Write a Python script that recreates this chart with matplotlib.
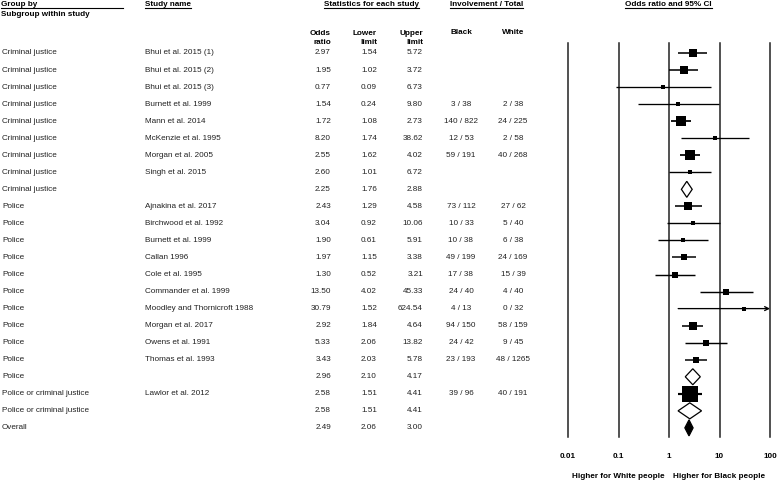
import matplotlib
matplotlib.use("Agg")
import matplotlib.pyplot as plt
from matplotlib.patches import Polygon
import numpy as np

# ---- data ----
groups = ["Criminal justice"] * 9 + ["Police"] * 11 + \
         ["Police or criminal justice"] * 2 + ["Overall"]
studies = ["Bhui et al. 2015 (1)", "Bhui et al. 2015 (2)", "Bhui et al. 2015 (3)",
           "Burnett et al. 1999", "Mann et al. 2014", "McKenzie et al. 1995",
           "Morgan et al. 2005", "Singh et al. 2015", "",
           "Ajnakina et al. 2017", "Birchwood et al. 1992", "Burnett et al. 1999",
           "Callan 1996", "Cole et al. 1995", "Commander et al. 1999",
           "Moodley and Thornicroft 1988", "Morgan et al. 2017", "Owens et al. 1991",
           "Thomas et al. 1993", "",
           "Lawlor et al. 2012", "", ""]
odds = [2.97, 1.95, 0.77, 1.54, 1.72, 8.20, 2.55, 2.60, 2.25,
        2.43, 3.04, 1.90, 1.97, 1.30, 13.50, 30.79, 2.92, 5.33, 3.43, 2.96,
        2.58, 2.58, 2.49]
lower = [1.54, 1.02, 0.09, 0.24, 1.08, 1.74, 1.62, 1.01, 1.76,
         1.29, 0.92, 0.61, 1.15, 0.52, 4.02, 1.52, 1.84, 2.06, 2.03, 2.10,
         1.51, 1.51, 2.06]
upper = [5.72, 3.72, 6.73, 9.80, 2.73, 38.62, 4.02, 6.72, 2.88,
         4.58, 10.06, 5.91, 3.38, 3.21, 45.33, 624.54, 4.64, 13.82, 5.78, 4.17,
         4.41, 4.41, 3.00]
black = ["", "", "", "3 / 38", "140 / 822", "12 / 53", "59 / 191", "", "",
         "73 / 112", "10 / 33", "10 / 38", "49 / 199", "17 / 38", "24 / 40",
         "4 / 13", "94 / 150", "24 / 42", "23 / 193", "",
         "39 / 96", "", ""]
white = ["", "", "", "2 / 38", "24 / 225", "2 / 58", "40 / 268", "", "",
         "27 / 62", "5 / 40", "6 / 38", "24 / 169", "15 / 39", "4 / 40",
         "0 / 32", "58 / 159", "9 / 45", "48 / 1265", "",
         "40 / 191", "", ""]
# relative weight (box area) per row, 0 for summary rows
weight = [4.9, 4.9, 0.9, 0.9, 10.0, 0.9, 9.0, 1.6, 0,
          4.9, 1.6, 1.6, 3.6, 2.5, 2.5, 0.9, 4.9, 2.5, 3.6, 0,
          25.6, 0, 0]
ticks = [0.01, 0.1, 1, 10, 100]
tick_labels = ["0.01", "0.1", "1", "10", "100"]

W, H = 778, 484
FS = 5.9
plt.rcParams["font.family"] = ["Liberation Sans", "DejaVu Sans"]

fig = plt.figure(figsize=(W / 100, H / 100), dpi=100)
ax = fig.add_axes([0, 0, 1, 1])
ax.set_xlim(0, W)
ax.set_ylim(H, 0)
ax.axis("off")

row0, dy = 53, 17.04

# headers (underlined)
def head(x, y, s, ha="left", line_to=None):
    t = ax.text(x, y, s, ha=ha, va="center", fontsize=FS, fontweight="bold")
    fig.canvas.draw()
    bb = t.get_window_extent().transformed(ax.transData.inverted())
    x0, x1 = bb.x0, bb.x1
    if line_to is not None:
        x1 = line_to
    ax.plot([x0, x1], [y + 4.2, y + 4.2], color="black", lw=0.8)

head(1, 4, "Group by", line_to=123)
ax.text(1, 14, "Subgroup within study", ha="left", va="center",
        fontsize=FS, fontweight="bold")
head(145, 4, "Study name")
head(371.5, 4, "Statistics for each study", ha="center")
head(486.5, 4, "Involvement / Total", ha="center")
head(668.5, 4, "Odds ratio and 95% CI", ha="center")

for x, s in [(331, "Odds\nratio"), (377, "Lower\nlimit"), (423, "Upper\nlimit")]:
    ax.text(x, 38, s, ha="right", va="center", fontsize=FS,
            fontweight="bold", linespacing=1.45)
ax.text(461, 33, "Black", ha="center", va="center", fontsize=FS, fontweight="bold")
ax.text(513, 33, "White", ha="center", va="center", fontsize=FS, fontweight="bold")

# table rows
for i in range(len(groups)):
    y = row0 + i * dy
    ax.text(2, y, groups[i], va="center", fontsize=FS, color="#222222")
    ax.text(145, y, studies[i], va="center", fontsize=FS, color="#222222")
    ax.text(331, y, "%.2f" % odds[i], ha="right", va="center", fontsize=FS, color="#222222")
    ax.text(377, y, "%.2f" % lower[i], ha="right", va="center", fontsize=FS, color="#222222")
    ax.text(423, y, "%.2f" % upper[i], ha="right", va="center", fontsize=FS, color="#222222")
    ax.text(461, y, black[i], ha="center", va="center", fontsize=FS, color="#222222")
    ax.text(513, y, white[i], ha="center", va="center", fontsize=FS, color="#222222")

# forest panel
x_left, x_right = 568, 770
y_top, y_bot = 43, 437
fx = fig.add_axes([x_left / W, 1 - y_bot / H, (x_right - x_left) / W, (y_bot - y_top) / H])
fx.set_xscale("log")
fx.set_xlim(0.01, 100)
fx.set_ylim((y_bot - row0) / dy, (y_top - row0) / dy)
fx.axis("off")
for t in ticks:
    fx.axvline(t, color="#222222", lw=1.1, clip_on=False)

for i in range(len(groups)):
    lo, hi, o = lower[i], upper[i], odds[i]
    if weight[i] > 0:
        lw = 0.8 + 0.15 * np.sqrt(weight[i])
        if hi > 100:
            fx.annotate("", xy=(100, i), xytext=(lo, i), annotation_clip=False,
                        arrowprops=dict(arrowstyle="->", lw=lw, color="black",
                                        mutation_scale=7, shrinkA=0, shrinkB=0))
        else:
            fx.plot([lo, hi], [i, i], color="black", lw=lw, solid_capstyle="butt")
        side = 3.2 * np.sqrt(weight[i]) * 0.72
        fx.plot(o, i, marker="s", ms=side, color="black", mew=0)
    else:
        h = 0.47
        fill = "black" if groups[i] == "Overall" else "white"
        fx.add_patch(Polygon([(lo, i), (o, i - h), (hi, i), (o, i + h)],
                             closed=True, facecolor=fill, edgecolor="black", lw=0.9))

for t, s in zip(ticks, tick_labels):
    x = x_left + (np.log10(t) + 2) / 4 * (x_right - x_left)
    ax.text(x, 457, s, ha="center", va="center", fontsize=FS, fontweight="bold")

ax.text(665, 477, "Higher for White people", ha="right", va="center",
        fontsize=FS, fontweight="bold")
ax.text(673, 477, "Higher for Black people", ha="left", va="center",
        fontsize=FS, fontweight="bold")

fig.savefig("out.png", dpi=100)
